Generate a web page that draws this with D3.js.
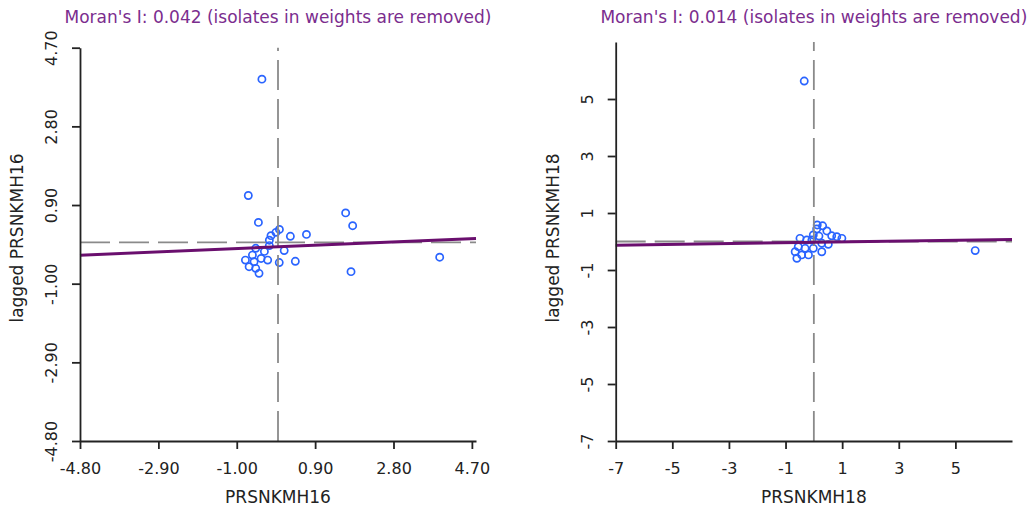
<!DOCTYPE html>
<html>
<head>
<meta charset="utf-8">
<script src="https://cdn.jsdelivr.net/npm/d3@7"></script>
<style>
  body { margin: 0; background: #fff; }
  text { font-family: "DejaVu Sans", Verdana, sans-serif; }
</style>
</head>
<body>
<div id="chart"></div>
<script>
// PRSNKMH16 (standardised) vs its spatial lag
const x16 = [-0.39, -0.72, -0.475, 0.034, -0.05, -0.17, -0.21, 0.30, 0.69, 1.64, 1.81, 1.77, 3.92,
             -0.21, -0.54, 0.15, -0.33, -0.62, -0.41, -0.25, -0.79, -0.58, -0.70, -0.54, -0.46, 0.03, 0.42];
const y16 = [3.94, 1.13, 0.48, 0.31, 0.24, 0.16, 0.05, 0.145, 0.19, 0.71, 0.40, -0.71, -0.36,
             -0.08, -0.145, -0.20, -0.22, -0.31, -0.39, -0.43, -0.43, -0.47, -0.59, -0.63, -0.75, -0.49, -0.46];
const moran16 = 0.042;
const intercept16 = -0.11;
const ticks16 = [-4.8, -2.9, -1.0, 0.9, 2.8, 4.7];

// PRSNKMH18 (standardised) vs its spatial lag
const x18 = [-0.34, 5.70, 0.31, 0.12, 0.10, 0.46, 0.63, 0.81, 0.99, -0.02, -0.07, -0.49, -0.25,
             0.28, 0.51, 0.28, -0.55, -0.31, -0.66, -0.43, -0.60, -0.19, -0.02, 0.18];
const y18 = [5.63, -0.32, 0.55, 0.58, 0.44, 0.37, 0.20, 0.17, 0.11, 0.23, 0.05, 0.11, 0.05,
             -0.06, -0.10, -0.36, -0.18, -0.24, -0.36, -0.47, -0.59, -0.47, -0.24, 0.19];
const moran18 = 0.014;
const intercept18 = -0.03;
const ticks18 = [-7, -5, -3, -1, 1, 3, 5];

const width = 1033;
const height = 510;

const panels = [
  { name: "PRSNKMH16", xs: x16, ys: y16, moran: moran16, intercept: intercept16,
    xDomain: [-4.8, 4.8], yDomain: [-4.8, 4.7], ticks: ticks16, fmt: d3.format(".2f"),
    left: 80, right: 476, top: 47.7, bottom: 441 },
  { name: "PRSNKMH18", xs: x18, ys: y18, moran: moran18, intercept: intercept18,
    xDomain: [-7, 7], yDomain: [-7, 7], ticks: ticks18, fmt: d3.format("d"),
    left: 615.7, right: 1012, top: 42, bottom: 441 }
];

const svg = d3.select("#chart").append("svg")
    .attr("width", width)
    .attr("height", height)
    .attr("viewBox", [0, 0, width, height]);

panels.forEach(p => {
  const x = d3.scaleLinear().domain(p.xDomain).range([p.left, p.right]);
  const y = d3.scaleLinear().domain(p.yDomain).range([p.bottom, p.top]);
  const tickFmt = d => p.fmt(d).replace("\u2212", "-"); // plain hyphen like the original
  const cx = (p.left + p.right) / 2;
  const g = svg.append("g");

  // title
  g.append("text")
      .attr("x", cx)
      .attr("y", 22.5)
      .attr("text-anchor", "middle")
      .attr("fill", "#7b2d8e")
      .style("font-size", "17px")
      .text(`Moran's I: ${d3.format(".3f")(p.moran)} (isolates in weights are removed)`);

  // points
  g.append("g")
    .selectAll("circle")
    .data(d3.range(p.xs.length))
    .join("circle")
      .attr("cx", i => x(p.xs[i]))
      .attr("cy", i => y(p.ys[i]))
      .attr("r", 3.6)
      .attr("fill", "none")
      .attr("stroke", "#2a64ff")
      .attr("stroke-width", 1.7);

  // zero lines
  g.append("line")
      .attr("x1", x(0)).attr("x2", x(0))
      .attr("y1", y(p.yDomain[0])).attr("y2", y(p.yDomain[1]))
      .attr("stroke", "#8a8a8a").attr("stroke-width", 1.8)
      .attr("stroke-dasharray", "30,9");
  g.append("line")
      .attr("x1", x(p.xDomain[0])).attr("x2", x(p.xDomain[1]))
      .attr("y1", y(0)).attr("y2", y(0))
      .attr("stroke", "#8a8a8a").attr("stroke-width", 1.8)
      .attr("stroke-dasharray", "30,9");

  // regression line
  g.append("line")
      .attr("x1", x(p.xDomain[0])).attr("x2", x(p.xDomain[1]))
      .attr("y1", y(p.intercept + p.moran * p.xDomain[0]))
      .attr("y2", y(p.intercept + p.moran * p.xDomain[1]))
      .attr("stroke", "#6a0f6e").attr("stroke-width", 3);

  // axes
  const xAxis = g.append("g")
      .attr("transform", `translate(0,${p.bottom})`)
      .call(d3.axisBottom(x).tickValues(p.ticks).tickFormat(tickFmt).tickSize(8).tickSizeOuter(0).tickPadding(14));
  const yAxis = g.append("g")
      .attr("transform", `translate(${p.left},0)`)
      .call(d3.axisLeft(y).tickValues(p.ticks).tickFormat(tickFmt).tickSize(8).tickSizeOuter(0));
  yAxis.selectAll(".tick text")
      .attr("transform", "rotate(-90)")
      .attr("x", 0).attr("y", -23).attr("dy", 0)
      .attr("text-anchor", "middle");

  [xAxis, yAxis].forEach(a => {
    a.select(".domain").attr("stroke", "#222").attr("stroke-width", 1.8);
    a.selectAll(".tick line").attr("stroke", "#222").attr("stroke-width", 1.8);
    a.selectAll(".tick text").attr("fill", "#222").style("font-size", "16px")
      .style("font-family", '"DejaVu Sans", Verdana, sans-serif');
  });

  // axis titles
  g.append("text")
      .attr("x", cx)
      .attr("y", 503)
      .attr("text-anchor", "middle")
      .attr("fill", "#222")
      .style("font-size", "17px")
      .text(p.name);
  g.append("text")
      .attr("transform", `translate(${p.left - 57},238) rotate(-90)`)
      .attr("text-anchor", "middle")
      .attr("fill", "#222")
      .style("font-size", "17px")
      .text(`lagged ${p.name}`);
});
</script>
</body>
</html>
